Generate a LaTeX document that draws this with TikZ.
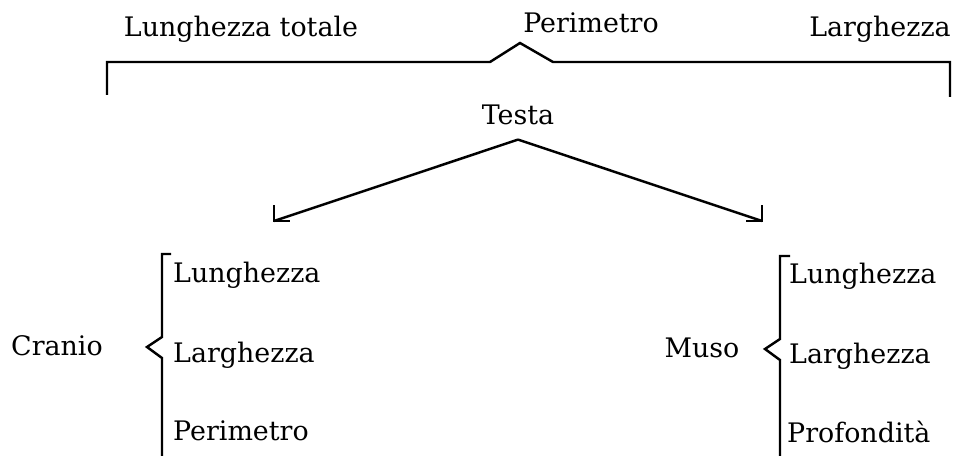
\documentclass[tikz,border=0pt]{standalone}
\usepackage{fontspec}
\setmainfont{DejaVu Serif}
\usetikzlibrary{calc}

\begin{document}
\begin{tikzpicture}[x=0.02cm, y=-0.02cm, line width=1.4pt]
    \tikzset{lbl/.style={inner sep=0pt, font=\fontsize{15.3}{18}\selectfont}}
    \useasboundingbox (0,0) rectangle (954,456);

    \node (totale) [lbl, anchor=base] at (241,37) {Lunghezza totale};
    \node (perim) [lbl, anchor=base] at (591,33) {Perimetro};
    \node (largh) [lbl, anchor=base] at (880,37) {Larghezza};
    \draw (107,95) -- (107,62) -- (490,62) -- (520,43) -- (553,62) -- (950,62) -- (950,97);

    \node (testa) [lbl, anchor=base] at (518,125) {Testa};
    \coordinate (fork) at ($(testa.south)+(0,13)$);
    \coordinate (lcorner) at (274,221);
    \coordinate (rcorner) at (762,221);
    \draw (fork) -- (lcorner);
    \draw (fork) -- (rcorner);
    \draw (lcorner) ++(0,-16) -- (lcorner) -- ++(16,0);
    \draw (rcorner) ++(0,-16) -- (rcorner) -- ++(-16,0);

    \node (cranio) [lbl, anchor=base] at (57,355) {Cranio};
    \draw (171,254) -- (162,254) -- (162,337) -- (147,347) -- (162,358) -- (162,456);
    \node (clung) [lbl, anchor=base west] at (172,282) {Lunghezza};
    \node (clarg) [lbl, anchor=base west] at (172,362) {Larghezza};
    \node (cperi) [lbl, anchor=base west] at (172,440) {Perimetro};

    \node (muso) [lbl, anchor=base] at (702,357) {Muso};
    \draw (790,256) -- (780,256) -- (780,339) -- (765,349) -- (780,360) -- (780,456);
    \node (mlung) [lbl, anchor=base west] at (788,283) {Lunghezza};
    \node (mlarg) [lbl, anchor=base west] at (788,363) {Larghezza};
    \node (mprof) [lbl, anchor=base west] at (786,442) {Profondità};
\end{tikzpicture}
\end{document}
